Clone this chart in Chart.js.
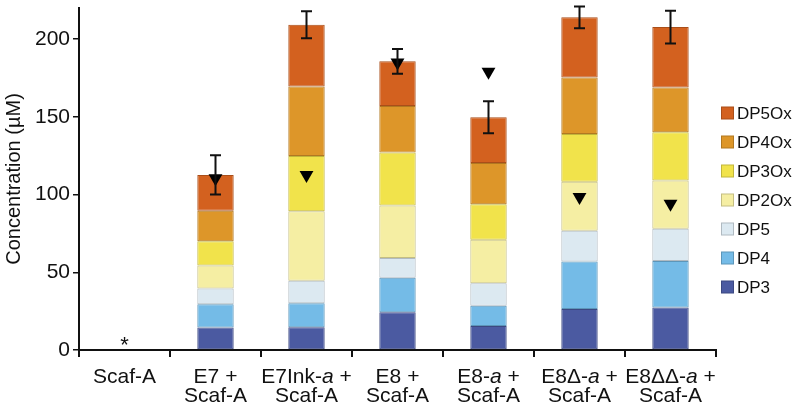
<!DOCTYPE html>
<html>
<head>
<meta charset="utf-8">
<script src="https://cdn.jsdelivr.net/npm/chart.js@4"></script>
<style>
  html, body { margin: 0; padding: 0; background: #fff; }
  #wrap { width: 796px; height: 405px; }
</style>
</head>
<body>
<div id="wrap"><canvas id="chart" width="796" height="405"></canvas></div>
<script>
// categories, "_" toggles italic
const categories = [['Scaf-A'], ['E7 +', 'Scaf-A'], ['E7Ink-_a_ +', 'Scaf-A'], ['E8 +', 'Scaf-A'],
  ['E8-_a_ +', 'Scaf-A'], ['E8Δ-_a_ +', 'Scaf-A'], ['E8ΔΔ-_a_ +', 'Scaf-A']];

const dp3   = [0, 14.5, 14.7, 24.3, 15.5, 26.4, 27.3];
const dp4   = [0, 15.0, 15.3, 22.1, 13.0, 30.5, 30.0];
const dp5   = [0, 10.0, 14.5, 12.8, 14.5, 19.8, 20.7];
const dp2ox = [0, 14.9, 44.7, 33.8, 27.9, 31.5, 31.0];
const dp3ox = [0, 15.6, 35.6, 34.0, 22.8, 30.7, 31.1];
const dp4ox = [0, 19.6, 44.7, 30.0, 26.6, 36.4, 28.8];
const dp5ox = [0, 23.0, 39.7, 28.7, 29.4, 38.7, 38.8];
const errors = [null, 12.6, 8.7, 8.0, 10.3, 7.0, 10.5];
const markers = [null, 110.5, 112.5, 185, 179, 98.5, 94];
const yTicks = [0, 50, 100, 150, 200];

const FONT = "'Liberation Sans', Arial, sans-serif";

const series = [
  { label: 'DP3', data: dp3, color: '#4b5aa1' },
  { label: 'DP4', data: dp4, color: '#74bbe7' },
  { label: 'DP5', data: dp5, color: '#dce9f1' },
  { label: 'DP2Ox', data: dp2ox, color: '#f5eea3' },
  { label: 'DP3Ox', data: dp3ox, color: '#f1e34b' },
  { label: 'DP4Ox', data: dp4ox, color: '#dd9629' },
  { label: 'DP5Ox', data: dp5ox, color: '#d3611f' }
];

// slightly darker edge of a fill colour
function edge(hex) {
  const n = parseInt(hex.slice(1), 16);
  const r = Math.round(((n >> 16) & 255) * 0.8);
  const g = Math.round(((n >> 8) & 255) * 0.8);
  const b = Math.round((n & 255) * 0.8);
  return 'rgb(' + r + ',' + g + ',' + b + ')';
}

const datasets = series.map(s => ({
  type: 'bar',
  label: s.label,
  data: s.data,
  backgroundColor: s.color,
  borderColor: edge(s.color),
  borderWidth: 1,
  borderSkipped: false,
  stack: 'total',
  categoryPercentage: 1,
  barPercentage: 0.4
}));

// down-pointing triangles, drawn on top of the bars
datasets.push({
  type: 'line',
  label: 'marker',
  data: markers,
  stack: 'markers',
  order: -1,
  showLine: false,
  pointStyle: 'triangle',
  rotation: 180,
  pointRadius: 8,
  pointHoverRadius: 8,
  backgroundColor: '#000',
  borderColor: '#000',
  borderWidth: 0
});

const extras = {
  id: 'extras',
  afterDatasetsDraw(chart) {
    const ctx = chart.ctx;
    const x = chart.scales.x, y = chart.scales.y;
    // error bars
    ctx.save();
    ctx.strokeStyle = '#111';
    ctx.lineWidth = 2;
    categories.forEach((c, i) => {
      if (errors[i] == null) return;
      let total = 0;
      series.forEach(s => total += s.data[i]);
      const px = x.getPixelForValue(i);
      const top = y.getPixelForValue(total + errors[i]);
      const bot = y.getPixelForValue(total - errors[i]);
      ctx.beginPath();
      ctx.moveTo(px, top); ctx.lineTo(px, bot);
      ctx.moveTo(px - 5.5, top); ctx.lineTo(px + 5.5, top);
      ctx.moveTo(px - 5.5, bot); ctx.lineTo(px + 5.5, bot);
      ctx.stroke();
    });
    // asterisk for Scaf-A
    ctx.fillStyle = '#111';
    ctx.font = '22px ' + FONT;
    ctx.textAlign = 'center';
    ctx.textBaseline = 'middle';
    ctx.fillText('*', x.getPixelForValue(0), y.getPixelForValue(0) - 4);
    ctx.restore();
  },
  afterDraw(chart) {
    const ctx = chart.ctx;
    const x = chart.scales.x;
    ctx.save();
    ctx.fillStyle = '#111';
    ctx.textBaseline = 'middle';
    // x labels with italic segments
    categories.forEach((lines, i) => {
      const cx = x.getPixelForValue(i);
      lines.forEach((line, li) => {
        const parts = line.split('_');
        let w = 0;
        parts.forEach((p, k) => {
          ctx.font = (k % 2 ? 'italic ' : '') + '21px ' + FONT;
          w += ctx.measureText(p).width;
        });
        let px = cx - w / 2;
        parts.forEach((p, k) => {
          ctx.font = (k % 2 ? 'italic ' : '') + '21px ' + FONT;
          ctx.textAlign = 'left';
          ctx.fillText(p, px, 377 + li * 19);
          px += ctx.measureText(p).width;
        });
      });
    });
    // legend, top to bottom DP5Ox .. DP3
    ctx.font = '17px ' + FONT;
    ctx.textAlign = 'left';
    series.slice().reverse().forEach((s, k) => {
      const cy = 113 + k * 29;
      ctx.fillStyle = edge(s.color);
      ctx.fillRect(721, cy - 6.5, 13, 13);
      ctx.fillStyle = s.color;
      ctx.fillRect(722, cy - 5.5, 11, 11);
      ctx.fillStyle = '#111';
      ctx.fillText(s.label, 737, cy + 1);
    });
    ctx.restore();
  }
};

new Chart(document.getElementById('chart'), {
  data: { labels: categories.map(c => c.join(' ')), datasets: datasets },
  options: {
    responsive: false,
    animation: false,
    devicePixelRatio: 1,
    layout: { padding: { top: 5, right: 80, left: 0, bottom: 0 } },
    plugins: { legend: { display: false }, tooltip: { enabled: false } },
    scales: {
      x: {
        stacked: true,
        offset: true,
        grid: { display: true, drawOnChartArea: false, offset: true, color: '#111', lineWidth: 2, tickLength: 7, tickColor: '#111' },
        border: { display: true, color: '#111', width: 2 },
        ticks: { display: false },
        afterFit(scale) { scale.height = 55; scale.paddingLeft = 0; scale.paddingRight = 0; }
      },
      y: {
        stacked: true,
        min: 0,
        max: 220,
        afterBuildTicks(scale) { scale.ticks = yTicks.map(v => ({ value: v })); },
        grid: { display: true, drawOnChartArea: false, color: '#111', lineWidth: 1.5, tickLength: 6, tickColor: '#111' },
        border: { display: true, color: '#111', width: 2 },
        ticks: { color: '#111', font: { family: FONT, size: 21 }, padding: 3 },
        title: { display: true, text: 'Concentration (µM)', color: '#111', font: { family: FONT, size: 20 }, padding: { top: 2, bottom: 2 } },
        afterFit(scale) { scale.width = 79; scale.paddingTop = 0; scale.paddingBottom = 0; }
      }
    }
  },
  plugins: [extras]
});
</script>
</body>
</html>
